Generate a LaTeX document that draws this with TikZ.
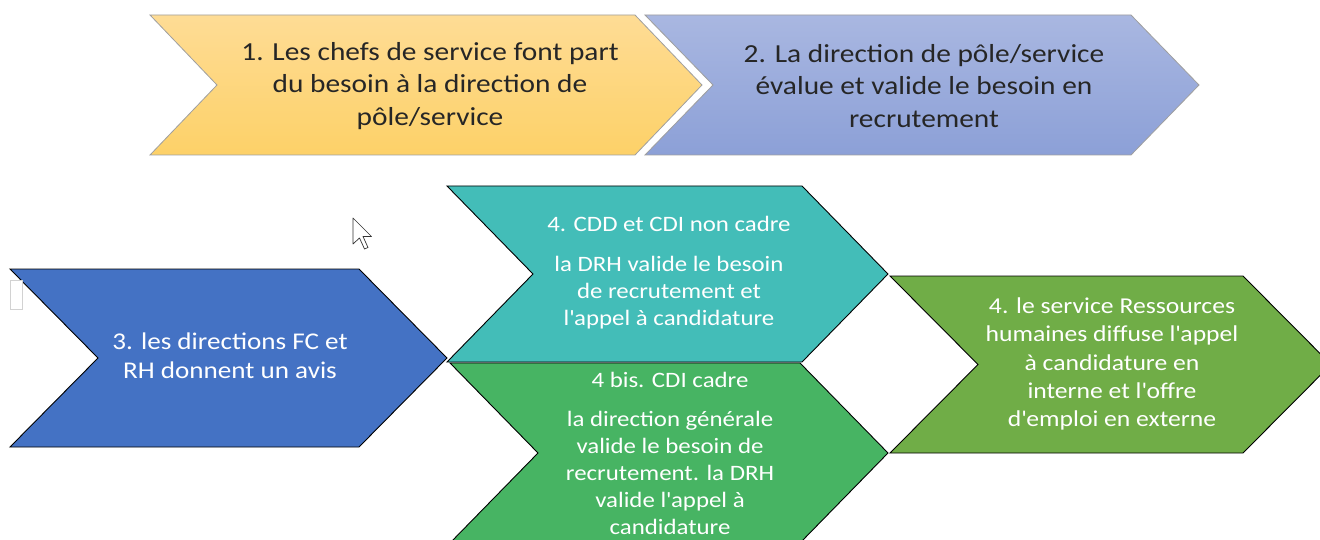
\documentclass[tikz,border=0pt]{standalone}
\usepackage{fontspec}
\setmainfont{Carlito}[FakeStretch=1.13]
\definecolor{textdark}{HTML}{262626}
\definecolor{goldtop}{HTML}{FEDC95}
\definecolor{goldbot}{HTML}{FDD168}
\definecolor{bluetop}{HTML}{A9B7E1}
\definecolor{bluebot}{HTML}{8CA0D7}
\definecolor{royal}{HTML}{4472C4}
\definecolor{teal}{HTML}{43BDB8}
\definecolor{midgreen}{HTML}{47B463}
\definecolor{olive}{HTML}{70AD47}
\tikzset{
  chevtop/.style={draw=gray!75, line width=0.8pt},
  chevlow/.style={draw=black, line width=0.9pt},
  toptext/.style={align=center, text=textdark, inner sep=0pt, font=\fontsize{26}{32.5}\selectfont},
  lowtext/.style={align=center, text=white, inner sep=0pt, font=\fontsize{22}{27}\selectfont},
  bluetext/.style={lowtext, font=\fontsize{24}{29}\selectfont},
  widetext/.style={lowtext, font=\fontsize{22.7}{28.4}\selectfont},
  cursorshape/.style={draw=black!80, fill=white, line width=0.7pt, line join=round},
  handlebox/.style={draw=gray!35, fill=white, line width=0.6pt},
}
\newcommand\chevron[6]{% #1 style, #2 x left, #3 y top, #4 x corner, #5 y bottom, #6 depth
  \path[#1] (#2,#3) -- (#4,#3) -- ({#4+#6},{(#3+#5)/2}) -- (#4,#5) -- (#2,#5)
    -- ({#2+#6},{(#3+#5)/2}) -- cycle;}
\begin{document}
\begin{tikzpicture}[x=1pt,y=-1pt]
\useasboundingbox (0,0) rectangle (1320,540);
\clip (0,0) rectangle (1320,540);
% top row
\chevron{chevtop, top color=goldtop, bottom color=goldbot}{150}{15}{635}{155}{67}
\chevron{draw=white, line width=3pt}{645}{15}{1131}{155}{68}
\chevron{chevtop, top color=bluetop, bottom color=bluebot}{645}{15}{1131}{155}{68}
\node[toptext] (t1) at (430,86) {1. Les chefs de service font part\\du besoin à la direction de\\pôle/service};
\node[toptext] (t2) at (924,86) {2. La direction de pôle/service\\évalue et valide le besoin en\\recrutement};
% lower row
\chevron{chevlow, fill=royal}{10}{269}{359}{447}{88}
\chevron{chevlow, fill=teal}{447}{186}{802}{362}{86}
\chevron{chevlow, fill=midgreen}{450}{363}{800}{543}{88}
\chevron{chevlow, fill=olive}{890}{276}{1243}{453}{88}
\node[bluetext] (t3) at (230,356) {3. les directions FC et\\RH donnent un avis};
\node[lowtext] (t4) at (669,273) {4. CDD et CDI non cadre\\[13pt]la DRH valide le besoin\\de recrutement et\\l\textquotesingle appel à candidature};
\node[lowtext] (t5) at (670,453) {4 bis. CDI cadre\\[12pt]la direction générale\\valide le besoin de\\recrutement. la DRH\\valide l\textquotesingle appel à\\candidature};
\node[widetext] (t6) at (1112,364) {4. le service Ressources\\humaines diffuse l\textquotesingle appel\\à candidature en\\interne et l\textquotesingle offre\\d\textquotesingle emploi en externe};
% artefacts
\draw[handlebox] (10,280) rectangle (22,309);
\draw[cursorshape] (353,218) -- ++(0,26) -- ++(6.5,-6) -- ++(5,11) -- ++(3.5,-1.5)
  -- ++(-5,-11) -- ++(8.5,0) -- cycle;
\end{tikzpicture}
\end{document}
